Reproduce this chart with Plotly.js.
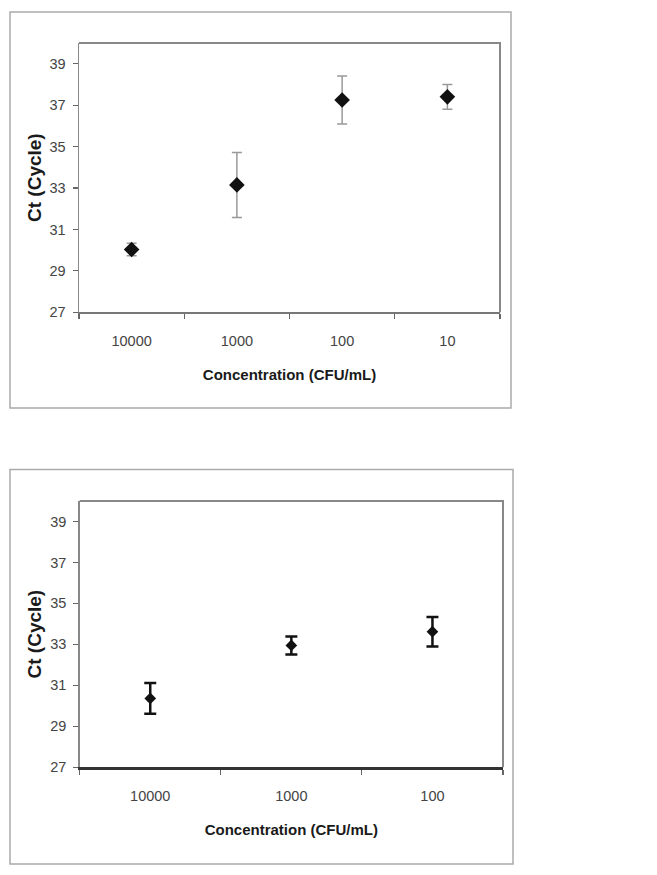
<!DOCTYPE html>
<html>
<head>
<meta charset="utf-8">
<script src="https://cdn.plot.ly/plotly-3.0.1.min.js"></script>
<style>
html,body{margin:0;padding:0;background:#fff;}
#chart{width:657px;height:875px;}
</style>
</head>
<body>
<div id="chart"></div>
<script>
// Top chart data
const topCategories = ["10000", "1000", "100", "10"];
const topCt = [30.03, 33.15, 37.25, 37.40];
const topErr = [0.30, 1.57, 1.16, 0.60];

// Bottom chart data
const bottomCategories = ["10000", "1000", "100"];
const bottomCt = [30.36, 32.95, 33.62];
const bottomErr = [0.75, 0.44, 0.72];

const yTicks = [27, 29, 31, 33, 35, 37, 39];
const xTitle = "Concentration (CFU/mL)";
const yTitle = "Ct (Cycle)";

const W = 657, H = 875;
const px = v => v / W;
const py = v => 1 - v / H;

const sans = "Liberation Sans, Arial, sans-serif";
const tickFont = {family: sans, size: 14.5, color: "#444"};
const xTitleFont = {family: sans, size: 15, color: "#1a1a1a", weight: "bold"};
const yTitleFont = {family: sans, size: 19, color: "#1a1a1a", weight: "bold"};

const traces = [
  {
    type: "scatter", mode: "markers",
    x: topCategories, y: topCt,
    xaxis: "x", yaxis: "y",
    marker: {symbol: "diamond", size: 12, color: "#111"},
    error_y: {type: "data", array: topErr, visible: true, color: "#999", thickness: 1.5, width: 5},
    showlegend: false, hoverinfo: "x+y"
  },
  {
    type: "scatter", mode: "markers",
    x: bottomCategories, y: bottomCt,
    xaxis: "x2", yaxis: "y2",
    marker: {symbol: "diamond", size: 9, color: "#111"},
    error_y: {type: "data", array: bottomErr, visible: true, color: "#111", thickness: 2.5, width: 6},
    showlegend: false, hoverinfo: "x+y"
  }
];

function xAxis(domain, anchor, n, lineColor, lineWidth) {
  return {
    type: "category", domain: domain, anchor: anchor,
    range: [-0.5, n - 0.5], tickson: "boundaries",
    ticks: "outside", ticklen: 5, tickcolor: "#666", tickwidth: 1.2,
    ticklabelstandoff: 14,
    showline: true, linecolor: lineColor, linewidth: lineWidth,
    showgrid: false, zeroline: false, fixedrange: true,
    tickfont: tickFont, automargin: false,
    title: {text: xTitle, font: xTitleFont, standoff: 22}
  };
}
function yAxis(domain, anchor) {
  return {
    domain: domain, anchor: anchor, range: [27, 40],
    tickvals: yTicks, ticktext: yTicks.map(String),
    ticks: "outside", ticklen: 5, tickcolor: "#666", tickwidth: 1.2,
    ticklabelstandoff: 4,
    showline: true, linecolor: "#888", linewidth: 1.5,
    showgrid: false, zeroline: false, fixedrange: true,
    tickfont: tickFont, automargin: false,
    title: {text: yTitle, font: yTitleFont, standoff: 3}
  };
}

const layout = {
  width: W, height: H,
  margin: {l: 0, r: 0, t: 0, b: 0},
  paper_bgcolor: "#fff", plot_bgcolor: "#fff",
  showlegend: false,
  xaxis: xAxis([px(79), px(500)], "y", topCategories.length, "#777", 1.8),
  yaxis: yAxis([py(312.3), py(43)], "x"),
  xaxis2: xAxis([px(79.7), px(503)], "y2", bottomCategories.length, "#333", 2.5),
  yaxis2: yAxis([py(767.3), py(501)], "x2"),
  shapes: [
    // outer frames
    {type: "rect", xref: "paper", yref: "paper", x0: px(10), x1: px(511), y0: py(408), y1: py(12),
     line: {color: "#aaa", width: 1.5}},
    {type: "rect", xref: "paper", yref: "paper", x0: px(10), x1: px(513), y0: py(864), y1: py(469.5),
     line: {color: "#aaa", width: 1.5}},
    // plot-area top/right borders
    {type: "path", xref: "paper", yref: "paper",
     path: `M ${px(79)} ${py(43)} L ${px(500)} ${py(43)} L ${px(500)} ${py(312.3)}`,
     line: {color: "#888", width: 2}},
    {type: "path", xref: "paper", yref: "paper",
     path: `M ${px(79.7)} ${py(501)} L ${px(503)} ${py(501)} L ${px(503)} ${py(767.3)}`,
     line: {color: "#888", width: 2}}
  ]
};

Plotly.newPlot("chart", traces, layout, {displayModeBar: false, staticPlot: true});
</script>
</body>
</html>
